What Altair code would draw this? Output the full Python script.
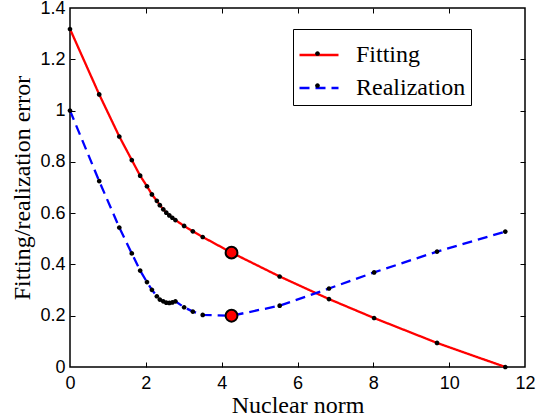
import altair as alt
import pandas as pd

# ---- data ----
nuclear_norm = [0, 0.77, 1.30, 1.63, 1.85, 2.03, 2.16, 2.29, 2.37, 2.46, 2.54, 2.62,
                2.70, 2.78, 3.01, 3.24, 3.50, 4.26, 5.53, 6.83, 8.02, 9.68, 11.48]
fitting_error = [1.318, 1.063, 0.899, 0.807, 0.746, 0.705, 0.673, 0.648, 0.631, 0.615,
                 0.602, 0.591, 0.582, 0.573, 0.550, 0.529, 0.507, 0.446, 0.353, 0.265,
                 0.191, 0.094, 0.0]
realization_error = [1.0, 0.725, 0.544, 0.443, 0.376, 0.331, 0.301, 0.276, 0.263, 0.256,
                     0.251, 0.250, 0.252, 0.256, 0.233, 0.216, 0.203, 0.200, 0.239, 0.306,
                     0.369, 0.450, 0.528]
series_names = ["Fitting", "Realization"]
series_colors = ["#ff0000", "#0000ff"]
highlight_x = [4.26, 4.26]
highlight_y = [0.446, 0.200]
x_ticks = [0, 2, 4, 6, 8, 10, 12]
y_ticks = [0, 0.2, 0.4, 0.6, 0.8, 1.0, 1.2, 1.4]
x_inner_ticks = [2, 4, 6, 8, 10]
y_inner_ticks = [0.2, 0.4, 0.6, 0.8, 1.0, 1.2]

rows = []
for xv, fv, rv in zip(nuclear_norm, fitting_error, realization_error):
    rows.append({"x": xv, "y": fv, "series": series_names[0], "dot_key": series_names[0] + " "})
    rows.append({"x": xv, "y": rv, "series": series_names[1], "dot_key": series_names[1] + " "})
df = pd.DataFrame(rows)
hl = pd.DataFrame({"x": highlight_x, "y": highlight_y})

x_scale = alt.Scale(domain=[0, 12], nice=False, zero=False)
y_scale = alt.Scale(domain=[0, 1.4], nice=False, zero=False)

SYM = 1521
common_leg = dict(orient="none", legendX=223, legendY=21, title=None,
                  symbolSize=SYM, padding=5, rowPadding=0, labelOffset=16,
                  labelFont="Liberation Serif", labelFontSize=24)

line_legend = alt.Legend(
    symbolType="stroke", symbolStrokeWidth=2.3,
    strokeColor="black", labelColor="black",
    labelExpr="datum.label == 'Realization' ? '\u00a0' + datum.label + '\u00a0\u00a0\u00a0\u00a0\u00a0\u00a0' : datum.label",
    **common_leg)

dot_path = "M0.12,0A0.12,0.12 0 1 1 -0.12,0A0.12,0.12 0 1 1 0.12,0Z"
dot_legend = alt.Legend(symbolFillColor="black", symbolStrokeWidth=0,
                        labelExpr="''", **common_leg)

lines = alt.Chart(df).mark_line(strokeWidth=2.3).encode(
    x=alt.X("x:Q", scale=x_scale,
            axis=alt.Axis(orient="bottom", values=x_ticks, ticks=False, labelPadding=7,
                          labelFlush=False, title="Nuclear norm", titlePadding=1)),
    y=alt.Y("y:Q", scale=y_scale,
            axis=alt.Axis(orient="left", values=y_ticks, ticks=False, labelPadding=5,
                          labelFlush=False, format="~g",
                          title="Fitting/realization error", titlePadding=5)),
    color=alt.Color("series:N", scale=alt.Scale(domain=series_names, range=series_colors),
                    legend=line_legend),
    strokeDash=alt.StrokeDash("series:N",
                              scale=alt.Scale(domain=series_names, range=[[1, 0], [10, 6]]),
                              legend=line_legend),
)

dots = alt.Chart(df).mark_point(filled=True, color="black", size=SYM, opacity=1).encode(
    x=alt.X("x:Q", axis=alt.Axis(orient="bottom", offset=-5, values=x_inner_ticks,
                                 labels=False, ticks=True, tickSize=5, title=None)),
    y=alt.Y("y:Q", axis=alt.Axis(orient="left", offset=-5, values=y_inner_ticks,
                                 labels=False, ticks=True, tickSize=5, title=None)),
    shape=alt.Shape("dot_key:N", scale=alt.Scale(range=[dot_path, dot_path]),
                    legend=dot_legend),
)

big = alt.Chart(hl).mark_point(shape="circle", filled=True, fill="#ff0000", stroke="black",
                               strokeWidth=2, size=140, opacity=1).encode(
    x=alt.X("x:Q", axis=alt.Axis(orient="top", offset=-5, values=x_inner_ticks,
                                 labels=False, ticks=True, tickSize=5, title=None)),
    y=alt.Y("y:Q", axis=alt.Axis(orient="right", offset=-5, values=y_inner_ticks,
                                 labels=False, ticks=True, tickSize=5, title=None)),
)

chart = alt.layer(lines, dots, big).resolve_axis(
    x="independent", y="independent"
).properties(
    width=455, height=359,
    autosize=alt.AutoSizeParams(type="none"),
    padding={"left": 70, "top": 8, "right": 12, "bottom": 52},
    background="white",
).configure_view(
    stroke="black", strokeWidth=1.5
).configure_axis(
    domain=False, grid=False,
    labelFont="Liberation Sans", labelFontSize=18, labelColor="black",
    titleFont="Liberation Serif", titleFontSize=24, titleFontWeight="normal",
    titleColor="black", tickColor="black", tickWidth=1,
)

chart.save("out.html", embed_options={"renderer": "svg", "actions": False})
